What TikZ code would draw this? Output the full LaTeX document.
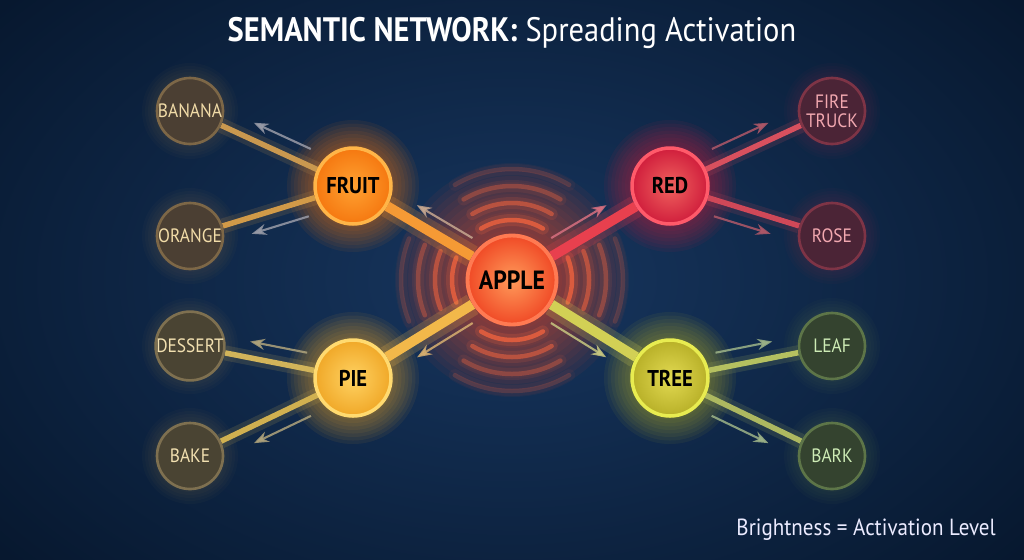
\documentclass[tikz,border=0pt]{standalone}
\usepackage{fontspec}
\setmainfont{PT Sans}[FakeStretch=0.9]
\usepackage{tikz}
\usetikzlibrary{arrows.meta,calc}

\definecolor{bgin}{HTML}{17365F}
\definecolor{bgout}{HTML}{07182F}
\definecolor{applecore}{HTML}{FF9A5A}
\definecolor{applefill}{HTML}{F04A26}
\definecolor{appleline}{HTML}{FF7A52}
\definecolor{ripplecol}{HTML}{E8603E}
\definecolor{fruitcore}{HTML}{FFA232}
\definecolor{fruitfill}{HTML}{F57810}
\definecolor{fruitline}{HTML}{FFB548}
\definecolor{redcore}{HTML}{F0625E}
\definecolor{redfill}{HTML}{D01E3C}
\definecolor{redline}{HTML}{FF5A6A}
\definecolor{piecore}{HTML}{FFD262}
\definecolor{piefill}{HTML}{F0A828}
\definecolor{pieline}{HTML}{FFDA70}
\definecolor{treecore}{HTML}{E2DA52}
\definecolor{treefill}{HTML}{B8B028}
\definecolor{treeline}{HTML}{E8EC50}
\definecolor{fruitdim}{HTML}{4B3F33}
\definecolor{fruitring}{HTML}{7D6747}
\definecolor{fruittext}{HTML}{F2DCA8}
\definecolor{piedim}{HTML}{4A4433}
\definecolor{piering}{HTML}{7E7050}
\definecolor{pietext}{HTML}{F2E0B0}
\definecolor{reddim}{HTML}{4B2436}
\definecolor{redring}{HTML}{7E3446}
\definecolor{redtext}{HTML}{F2A8B0}
\definecolor{treedim}{HTML}{34432F}
\definecolor{treering}{HTML}{5D7548}
\definecolor{treetext}{HTML}{CDEBB5}

\pgfdeclarelayer{back}
\pgfdeclarelayer{glow}
\pgfdeclarelayer{links}
\pgfsetlayers{back,glow,links,main}

\begin{document}
\begin{tikzpicture}[x=0.02cm, y=-0.02cm, >=Stealth,
  hub/.style={circle, minimum size=1.78cm, inner sep=0pt, line width=2.2pt, text=black,
    font=\fontsize{15}{17}\selectfont\bfseries},
  mid/.style={circle, minimum size=1.52cm, inner sep=0pt, line width=2pt, text=black,
    font=\fontsize{13}{15}\selectfont\bfseries},
  outer/.style={circle, minimum size=1.32cm, inner sep=0pt, line width=1.5pt, align=center,
    font=\fontsize{11}{12}\selectfont},
  bond/.style={line width=0.2cm},
  twig/.style={line width=0.11cm},
  flow/.style={->, line width=1.2pt, opacity=0.85},
  ring/.style={line width=0.09cm, line cap=round, ripplecol}]
  \useasboundingbox (0,0) rectangle (1024,559);
  \begin{pgfonlayer}{back}
    \fill[inner color=bgin, outer color=bgout] (-150,-150) rectangle (1174,709);
  \end{pgfonlayer}

  % active concepts
  \node[hub, inner color=applecore, outer color=applefill, draw=appleline] (apple) at (512,280) {APPLE};
  \node[mid, inner color=fruitcore, outer color=fruitfill, draw=fruitline] (fruit) at (353,186) {FRUIT};
  \node[mid, inner color=redcore, outer color=redfill, draw=redline] (red) at (670,186) {RED};
  \node[mid, inner color=piecore, outer color=piefill, draw=pieline] (pie) at (353,378) {PIE};
  \node[mid, inner color=treecore, outer color=treefill, draw=treeline] (tree) at (670,378) {TREE};

  % weakly activated concepts
  \node[outer, fill=fruitdim, draw=fruitring, text=fruittext] (banana) at (190,111) {BANANA};
  \node[outer, fill=fruitdim, draw=fruitring, text=fruittext] (orange) at (190,236) {ORANGE};
  \node[outer, fill=piedim, draw=piering, text=pietext] (dessert) at (190,346) {DESSERT};
  \node[outer, fill=piedim, draw=piering, text=pietext] (bake) at (190,456) {BAKE};
  \node[outer, fill=reddim, draw=redring, text=redtext] (firetruck) at (832,111) {FIRE\\[-1pt]TRUCK};
  \node[outer, fill=reddim, draw=redring, text=redtext] (rose) at (832,236) {ROSE};
  \node[outer, fill=treedim, draw=treering, text=treetext] (leaf) at (832,346) {LEAF};
  \node[outer, fill=treedim, draw=treering, text=treetext] (bark) at (832,456) {BARK};

  \begin{pgfonlayer}{glow}
    \foreach \g in {1,...,12}
      \fill[applefill, opacity=0.06] (apple) circle (44+6*\g);
    \foreach \n/\c in {fruit/fruitfill, red/redfill, pie/piefill, tree/treefill}
      \foreach \g in {1,...,8}
        \fill[\c, opacity=0.07] (\n) circle (38+3.5*\g);
    \foreach \n/\c in {banana/fruitring, orange/fruitring, dessert/piering, bake/piering,
                       firetruck/redring, rose/redring, leaf/treering, bark/treering}
      \foreach \g in {1,...,5}
        \fill[\c, opacity=0.05] (\n) circle (33+3*\g);
    % ripples
    \foreach \r/\o in {60/0.85, 77/0.6, 94/0.4, 111/0.22} {
      \foreach \m in {0,180} {
        \draw[ring, line width=0.24cm, opacity=0.25*\o] (apple.center) ++(\m-22:\r) arc[start angle=\m-22, end angle=\m+22, radius=\r];
        \draw[ring, opacity=\o] (apple.center) ++(\m-22:\r) arc[start angle=\m-22, end angle=\m+22, radius=\r];
      }
      \foreach \m in {90,270} {
        \draw[ring, line width=0.24cm, opacity=0.25*\o] (apple.center) ++(\m-31:\r) arc[start angle=\m-31, end angle=\m+31, radius=\r];
        \draw[ring, opacity=\o] (apple.center) ++(\m-31:\r) arc[start angle=\m-31, end angle=\m+31, radius=\r];
      }
    }
  \end{pgfonlayer}

  \begin{pgfonlayer}{links}
    \foreach \a/\b/\c in {apple/fruit/F59A35, apple/red/E8404E, apple/pie/F2B84A, apple/tree/D2D055} {
      \definecolor{linkcol}{HTML}{\c}
      \draw[bond, linkcol, line width=0.45cm, opacity=0.2] (\a) -- (\b);
      \draw[bond, linkcol] (\a) -- (\b);
    }
    \foreach \a/\b/\c in {fruit/banana/C9984F, fruit/orange/D19A48, red/firetruck/D8505E, red/rose/D04858,
                          pie/dessert/D2B45A, pie/bake/D0B050, tree/leaf/B5C060, tree/bark/ADB860} {
      \definecolor{linkcol}{HTML}{\c}
      \draw[twig, linkcol, line width=0.3cm, opacity=0.15] (\a) -- (\b);
      \draw[twig, linkcol] (\a) -- (\b);
    }
    % spreading direction
    \foreach \a/\b/\s/\c in {apple/fruit/-90/C8A890, apple/red/90/D87080, apple/pie/90/D8B070, apple/tree/-90/C8C880,
                             fruit/banana/-90/9A9CA8, fruit/orange/90/9A9CA8, red/firetruck/90/B05868, red/rose/-90/B05868,
                             pie/dessert/-90/B0A47C, pie/bake/90/B0A47C, tree/leaf/90/9EB488, tree/bark/-90/9EB488} {
      \definecolor{flowcol}{HTML}{\c}
      \draw[flow, flowcol] ($(\a)!0.3!(\b)!0.32cm!\s:(\b)$) -- ($(\a)!0.65!(\b)!0.32cm!\s:(\b)$);
    }
  \end{pgfonlayer}

  \node[text=white, font=\fontsize{19.3}{22}\selectfont] (title) at (512,33)
    {\textbf{SEMANTIC NETWORK:} Spreading Activation};
  \node[text=white!92!blue, font=\fontsize{13.3}{15}\selectfont, anchor=east] (legend) at (1002,530)
    {Brightness = Activation Level};
\end{tikzpicture}
\end{document}
